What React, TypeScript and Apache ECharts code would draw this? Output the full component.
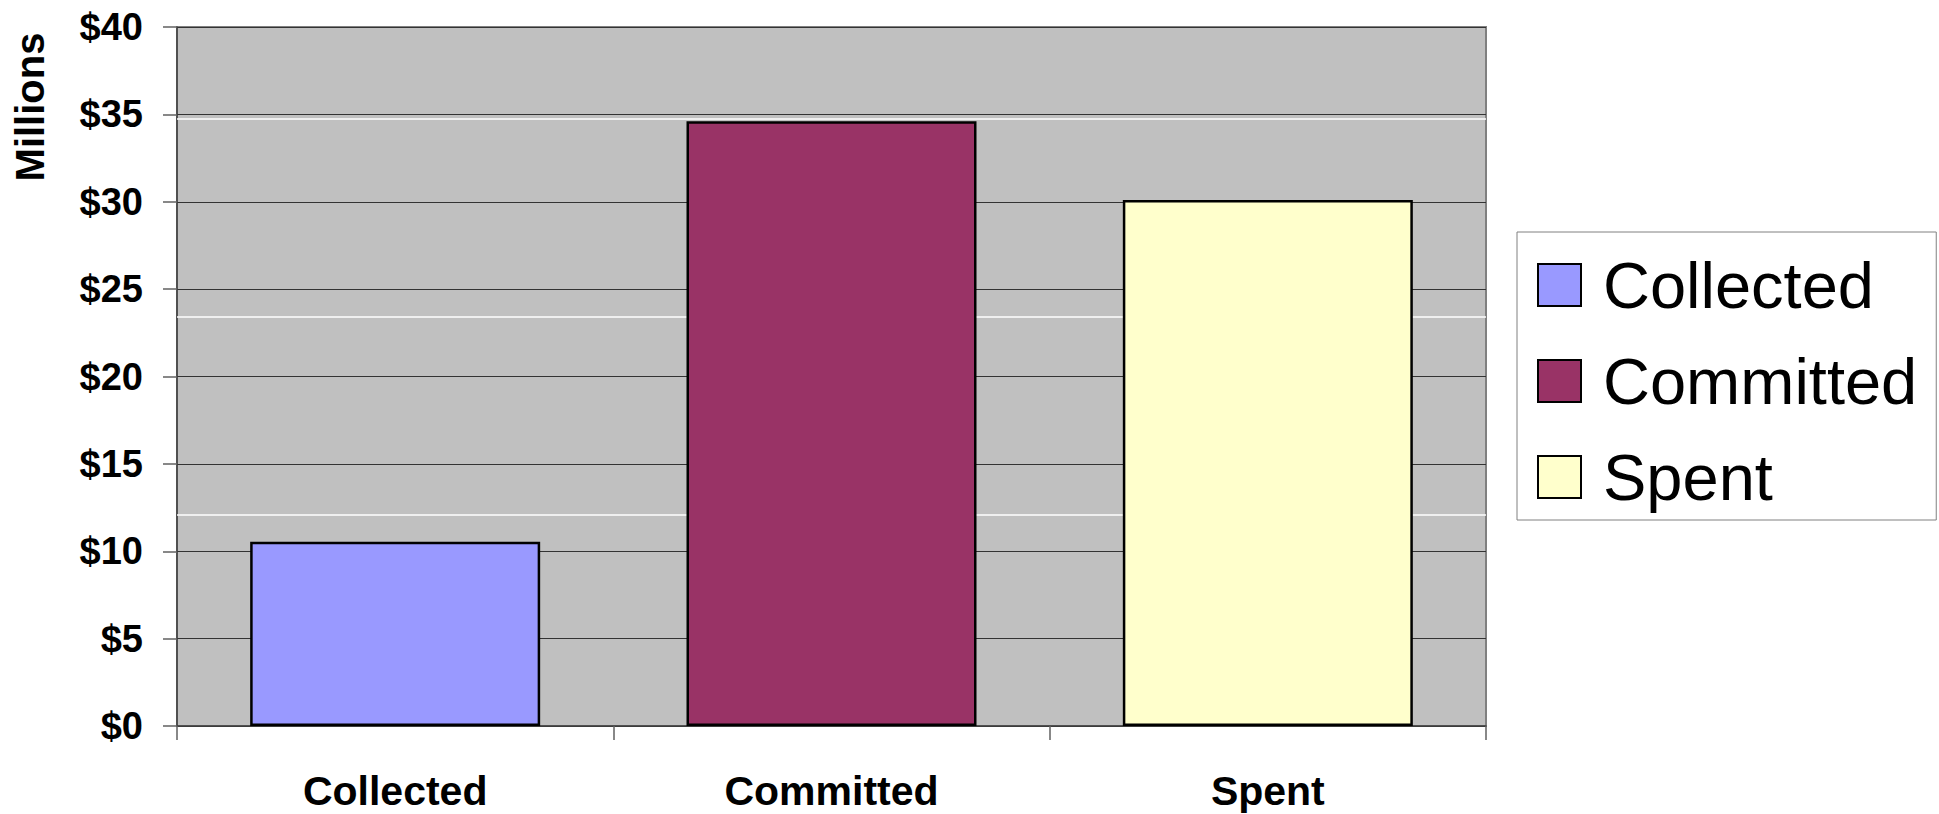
import React, { useEffect, useRef } from "react";
import * as echarts from "echarts";

const categories = ["Collected", "Committed", "Spent"];
const values = [10.55, 34.6, 30.1];
const colors = ["#9999FF", "#993366", "#FFFFCC"];
const yTicks = { min: 0, max: 40, interval: 5 };
const artifactLines = [34.75, 23.43, 12.11];

const FONT = "'Liberation Sans', Arial, sans-serif";

export default function App() {
  const ref = useRef<HTMLDivElement>(null);
  useEffect(() => {
    if (!ref.current) return;
    const chart = echarts.init(ref.current, undefined, { renderer: "svg" });
    const series: any[] = categories.map((name, i) => ({
      name,
      type: "bar",
      z: 3,
      barWidth: 290,
      barGap: "-100%",
      data: categories.map((_, j) => (j === i ? values[i] : null)),
      itemStyle: { color: colors[i], borderColor: "#000", borderWidth: 2.5 },
    }));
    series.push({
      name: "_artifact",
      type: "bar",
      z: 1,
      barWidth: 290,
      barGap: "-100%",
      data: categories.map(() => null),
      markLine: {
        silent: true,
        z: 1,
        symbol: "none",
        label: { show: false },
        lineStyle: { color: "#ffffff", width: 1.5, type: "solid" },
        data: artifactLines.map((v) => ({ yAxis: v })),
      },
    });
    chart.setOption({
      animation: false,
      textStyle: { fontFamily: FONT },
      grid: {
        left: 177,
        top: 27,
        right: 453,
        bottom: 88,
        show: true,
        backgroundColor: "#C0C0C0",
        borderColor: "#808080",
        borderWidth: 2,
      },
      legend: {
        data: categories,
        orient: "vertical",
        left: 1517,
        top: 232,
        padding: [20, 19, 10, 20],
        itemWidth: 43,
        itemHeight: 42,
        itemGap: 30,
        backgroundColor: "#ffffff",
        borderColor: "#808080",
        borderWidth: 1,
        borderRadius: 0,
        icon: "rect",
        textStyle: {
          fontFamily: FONT,
          fontSize: 65,
          lineHeight: 66,
          color: "#000",
          padding: [0, 0, 0, 17],
        },
      },
      graphic: [
        {
          type: "text",
          x: 30,
          y: 107,
          rotation: Math.PI / 2,
          style: {
            text: "Millions",
            fontFamily: FONT,
            fontWeight: "bold",
            fontSize: 40,
            fill: "#000",
            textAlign: "center",
            textVerticalAlign: "middle",
          },
        },
      ],
      xAxis: {
        type: "category",
        data: categories,
        axisLine: { show: true, lineStyle: { color: "#404040", width: 1.5 } },
        axisTick: { show: true, length: 14, lineStyle: { color: "#606060", width: 1.5 } },
        axisLabel: {
          fontFamily: FONT,
          fontWeight: "bold",
          fontSize: 41,
          color: "#000",
          margin: 44,
        },
      },
      yAxis: {
        type: "value",
        min: yTicks.min,
        max: yTicks.max,
        interval: yTicks.interval,
        axisLine: { show: true, lineStyle: { color: "#404040", width: 1.5 } },
        axisTick: { show: true, length: 14, lineStyle: { color: "#606060", width: 1.5 } },
        splitLine: { show: true, lineStyle: { color: "#333333", width: 1.2 } },
        axisLabel: {
          fontFamily: FONT,
          fontWeight: "bold",
          fontSize: 38,
          color: "#000",
          margin: 34,
          formatter: (v: number) => "$" + v,
        },
      },
      series,
    });
    return () => chart.dispose();
  }, []);
  return (
    <div
      ref={ref}
      style={{ position: "fixed", left: 0, top: 0, width: 1939, height: 814, background: "#fff" }}
    />
  );
}
